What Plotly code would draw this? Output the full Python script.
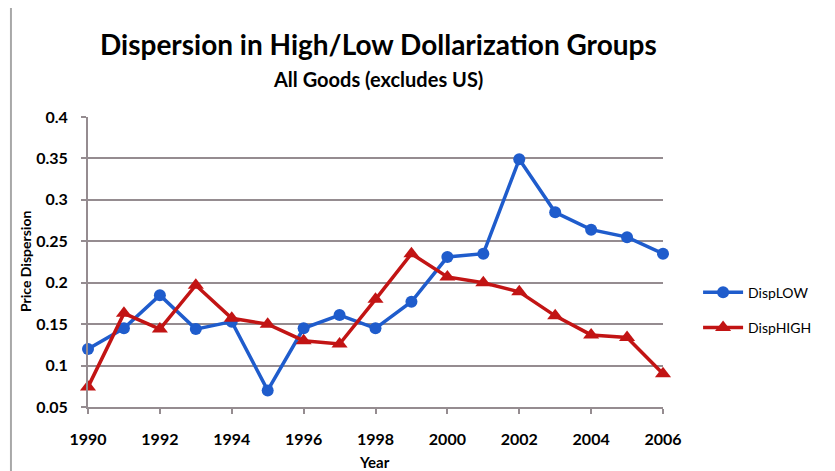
import plotly.graph_objects as go

years = list(range(1990, 2007))
disp_low = [0.120, 0.145, 0.185, 0.144, 0.153, 0.070, 0.145, 0.161, 0.145, 0.177,
            0.231, 0.235, 0.349, 0.285, 0.264, 0.255, 0.235]
disp_high = [0.074, 0.163, 0.144, 0.197, 0.157, 0.150, 0.130, 0.126, 0.180, 0.235,
             0.207, 0.200, 0.189, 0.160, 0.137, 0.134, 0.090]
x_ticks = list(range(1990, 2007, 2))
y_ticks = [0.05, 0.1, 0.15, 0.2, 0.25, 0.3, 0.35, 0.4]

FONT = "Lato, 'Open Sans', sans-serif"
BLUE = "#1f5ccc"
RED = "#c21414"
GRID = "#958c90"

fig = go.Figure()

fig.add_trace(go.Scatter(
    x=years, y=disp_low,
    mode="lines+markers",
    name="DispLOW",
    legendgroup="low",
    cliponaxis=False,
    line=dict(color=BLUE, width=3.5),
    marker=dict(color=BLUE, symbol="circle", size=12)
))

fig.add_trace(go.Scatter(
    x=years, y=disp_high,
    mode="lines+markers",
    name="DispHIGH",
    legendgroup="high",
    cliponaxis=False,
    line=dict(color=RED, width=3.5),
    marker=dict(color=RED, symbol="triangle-up", size=14)
))

fig.add_annotation(
    text="<b>Dispersion in High/Low Dollarization Groups</b>",
    xref="paper", yref="paper",
    x=0.505, y=1.0, yshift=73,
    xanchor="center", yanchor="middle",
    showarrow=False,
    font=dict(family=FONT, size=28, color="black")
)
fig.add_annotation(
    text="<b>All Goods (excludes US)</b>",
    xref="paper", yref="paper",
    x=0.505, y=1.0, yshift=38,
    xanchor="center", yanchor="middle",
    showarrow=False,
    font=dict(family=FONT, size=20, color="black")
)
fig.add_annotation(
    text="<b>Price Dispersion</b>",
    xref="paper", yref="paper",
    x=0.0, y=0.5, xshift=-63,
    xanchor="center", yanchor="middle",
    textangle=-90,
    showarrow=False,
    font=dict(family=FONT, size=14, color="black")
)
fig.add_annotation(
    text="<b>Year</b>",
    xref="paper", yref="paper",
    x=0.499, y=0.0, yshift=-55,
    xanchor="center", yanchor="middle",
    showarrow=False,
    font=dict(family=FONT, size=15, color="black")
)

# chart frame left edge
fig.add_shape(
    type="line", xref="paper", yref="paper",
    x0=-0.134, x1=-0.134, y0=-0.3, y1=1.45,
    line=dict(color="#a8a8a8", width=2)
)

fig.update_layout(
    width=827, height=463,
    margin=dict(l=80, r=172, t=109, b=64),
    paper_bgcolor="white",
    plot_bgcolor="white",
    font=dict(family=FONT, size=14, color="black"),
    showlegend=True,
    legend=dict(
        x=1.061, y=0.334, xanchor="left", yanchor="middle",
        font=dict(family=FONT, size=14, color="black"),
        tracegroupgap=14, itemwidth=40,
        bgcolor="rgba(0,0,0,0)"
    ),
    xaxis=dict(
        range=[1990, 2006],
        tickvals=x_ticks,
        ticktext=[f"<b>{t}</b>" for t in x_ticks],
        ticks="outside", ticklen=5, tickcolor=GRID, tickwidth=2,
        ticklabelstandoff=12,
        showgrid=False, zeroline=False,
        showline=True, linecolor=GRID, linewidth=2,
        tickfont=dict(size=16)
    ),
    yaxis=dict(
        range=[0.05, 0.4],
        tickvals=y_ticks,
        ticktext=[f"<b>{t:g}</b>" for t in y_ticks],
        ticks="outside", ticklen=5, tickcolor=GRID, tickwidth=2,
        ticklabelstandoff=10,
        showgrid=True, gridcolor=GRID, gridwidth=2,
        zeroline=False,
        showline=True, linecolor=GRID, linewidth=2,
        tickfont=dict(size=16)
    )
)

fig.write_html("out.html")
